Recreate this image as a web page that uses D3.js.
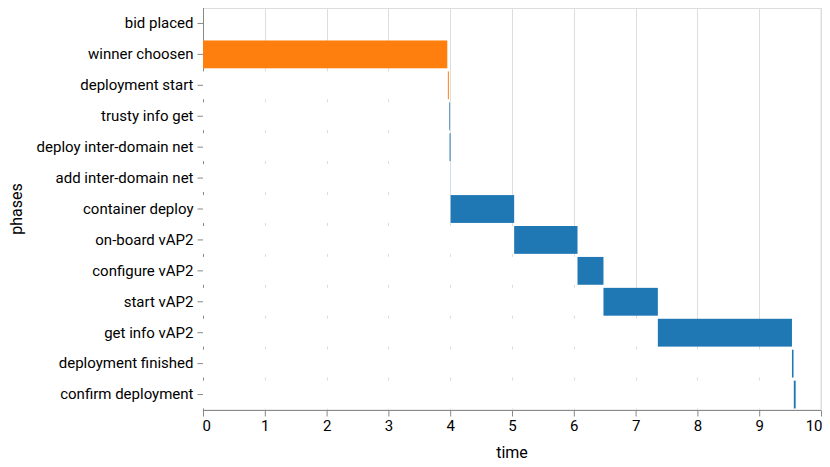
<!DOCTYPE html>
<html>
<head>
<meta charset="utf-8">
<script src="https://cdn.jsdelivr.net/npm/d3@7"></script>
<style>
  body { margin: 0; background: #fff; }
  text { font-family: Roboto, "Liberation Sans", sans-serif; }
</style>
</head>
<body>
<svg id="chart" width="830" height="467"></svg>
<script>
const phases = ["bid placed", "winner choosen", "deployment start", "trusty info get",
  "deploy inter-domain net", "add inter-domain net", "container deploy", "on-board vAP2",
  "configure vAP2", "start vAP2", "get info vAP2", "deployment finished", "confirm deployment"];
const startTimes = [0, 0, 3.962, 3.983, 3.990, 4.004, 4.006, 5.035, 6.06, 6.48, 7.36, 9.53, 9.56];
const endTimes   = [0, 3.953, 3.978, 3.994, 4.005, 4.006, 5.035, 6.06, 6.48, 7.36, 9.53, 9.555, 9.59];
const groups     = ["b", "a", "a", "b", "b", "b", "b", "b", "b", "b", "b", "b", "b"];
const xTicks = [0, 1, 2, 3, 4, 5, 6, 7, 8, 9, 10];

const data = phases.map((p, i) => ({phase: p, start: startTimes[i], end: endTimes[i], group: groups[i]}));

const svg = d3.select("#chart");
const margin = {left: 203, top: 8, right: 9, bottom: 57};
const W = 830 - margin.left - margin.right;
const H = 467 - margin.top - margin.bottom;
const g = svg.append("g").attr("transform", `translate(${margin.left},${margin.top})`);

const x = d3.scaleLinear().domain([0, 10]).range([0, W]);
const y = d3.scaleBand().domain(phases).range([0, H]).paddingInner(0.1).paddingOuter(0.05);
const color = d3.scaleOrdinal().domain(["a", "b"]).range(["#ff7f0e", "#1f77b4"]);

// view border
g.append("rect").attr("x", 0.5).attr("y", 0.5).attr("width", W - 0.5).attr("height", H - 0.5)
  .attr("fill", "none").attr("stroke", "#ddd");

// grid
g.append("g").selectAll("line").data(xTicks).join("line")
  .attr("x1", d => Math.round(x(d)) + 0.5).attr("x2", d => Math.round(x(d)) + 0.5)
  .attr("y1", 0).attr("y2", H).attr("stroke", "#ddd");

// y axis (drawn beneath marks)
const yAxis = g.append("g").attr("transform", "translate(0.5,0)")
  .call(d3.axisLeft(y).tickSize(6).tickPadding(4));
yAxis.select(".domain").attr("stroke", "#888").attr("d", `M0,0V${H}`);
yAxis.selectAll(".tick line").attr("stroke", "#888");
yAxis.selectAll(".tick text").attr("font-size", 15).attr("fill", "#000")
  .style("font-family", "Roboto, sans-serif");

// white stack segments (0 -> start)
g.append("g").selectAll("rect").data(data.filter(d => d.start > 0)).join("rect")
  .attr("x", x(0)).attr("y", d => y(d.phase))
  .attr("width", d => x(d.start) - x(0)).attr("height", y.bandwidth())
  .attr("fill", "#fff");

// task bars
g.append("g").selectAll("rect").data(data.filter(d => d.end > d.start)).join("rect")
  .attr("x", d => x(d.start)).attr("y", d => y(d.phase))
  .attr("width", d => x(d.end) - x(d.start)).attr("height", y.bandwidth())
  .attr("fill", d => color(d.group));

// x axis
const xAxis = g.append("g").attr("transform", `translate(0,${H + 0.5})`)
  .call(d3.axisBottom(x).tickValues(xTicks).tickSize(6).tickPadding(4).tickFormat(d3.format("d")));
xAxis.select(".domain").attr("stroke", "#888").attr("d", `M0,0H${W}`);
xAxis.selectAll(".tick line").attr("stroke", "#888");
xAxis.selectAll(".tick text").attr("font-size", 15).attr("fill", "#000")
  .style("font-family", "Roboto, sans-serif")
  .attr("text-anchor", d => d === 0 ? "start" : d === 10 ? "end" : "middle")
  .attr("dx", d => d === 0 ? -1 : d === 10 ? 1 : 0);

// titles
g.append("text").attr("x", W / 2).attr("y", H + 48).attr("text-anchor", "middle")
  .attr("font-size", 16).attr("fill", "#000").text("time");
svg.append("text").attr("transform", `translate(22,${margin.top + H / 2}) rotate(-90)`)
  .attr("text-anchor", "middle").attr("font-size", 16).attr("fill", "#000").text("phases");
</script>
</body>
</html>
